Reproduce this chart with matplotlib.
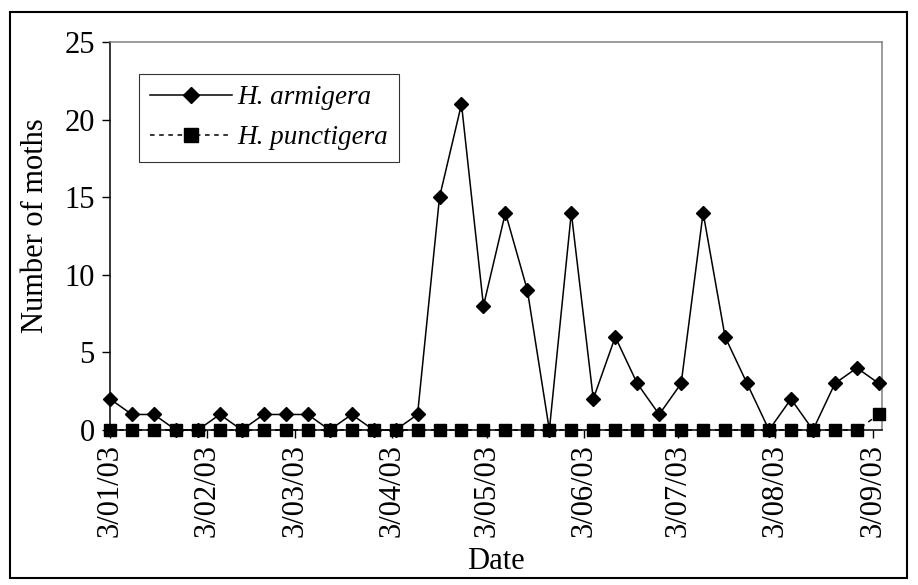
import datetime as dt
import matplotlib
matplotlib.use("Agg")
import matplotlib.pyplot as plt
import matplotlib.dates as mdates
from matplotlib.patches import Rectangle

plt.rcParams['font.family'] = ['Liberation Serif', 'DejaVu Serif']

# Weekly trap catches, starting 3 January 2003
start = dt.date(2003, 1, 3)
n_weeks = 36
dates = [start + dt.timedelta(days=7 * i) for i in range(n_weeks)]

armigera = [2, 1, 1, 0, 0, 1, 0, 1, 1, 1, 0, 1, 0, 0, 1,
            15, 21, 8, 14, 9, 0, 14, 2, 6, 3, 1, 3, 14, 6, 3,
            0, 2, 0, 3, 4, 3]
punctigera = [0] * 35 + [1]

tick_dates = [dt.date(2003, m, 3) for m in range(1, 10)]
y_ticks = [0, 5, 10, 15, 20, 25]

FS = 22
LEG_FS = 19.5

fig = plt.figure(figsize=(9.18, 5.85), dpi=100)
ax = fig.add_axes([110 / 918, 1 - 430 / 585, 772 / 918, 388 / 585])

ax.plot(dates, armigera, color='black', lw=1.1, marker='D', markersize=7,
        label='H. armigera', zorder=3, clip_on=False)
ax.plot(dates, punctigera, color='black', lw=1.1, ls=(0, (3, 3)), marker='s',
        markersize=9, label='H. punctigera', zorder=4, clip_on=False)

ax.set_xlim(dt.date(2003, 1, 3), dt.date(2003, 9, 6))
ax.set_ylim(0, 25)
ax.set_yticks(y_ticks)
ax.set_xticks(tick_dates)


def fmt_date(v, pos):
    d = mdates.num2date(v)
    return f"{d.day}/{d.month:02d}/{d.year % 100:02d}"


ax.xaxis.set_major_formatter(matplotlib.ticker.FuncFormatter(fmt_date))

for lbl in ax.get_xticklabels():
    lbl.set_rotation(90)

ax.tick_params(axis='both', direction='out', length=6, width=1, colors='black',
               labelsize=FS)
ax.tick_params(axis='y', pad=5)
ax.tick_params(axis='x', pad=4)

ax.spines['left'].set_color('black')
ax.spines['bottom'].set_color('black')
ax.spines['top'].set_color('#808080')
ax.spines['right'].set_color('#808080')
for s in ax.spines.values():
    s.set_linewidth(1.1)

ax.set_xlabel('Date', fontsize=FS)
ax.xaxis.label.set_va('center')
ax.xaxis.set_label_coords(0.5, -0.340)
ax.set_ylabel('Number of moths', fontsize=FS)
ax.yaxis.label.set_va('center')
ax.yaxis.set_label_coords(-0.097, 0.526)

leg = ax.legend(loc='upper left', bbox_to_anchor=(29 / 772, 1 - 32 / 388),
                prop={'style': 'italic', 'size': LEG_FS},
                frameon=True, fancybox=False, edgecolor='black',
                handlelength=3.0, borderpad=0.42, labelspacing=0.55,
                handletextpad=0.2, borderaxespad=0, markerscale=1.1)
leg.get_frame().set_linewidth(0.8)

fig.patches.append(Rectangle((10 / 918, 7 / 585), 897 / 918, 566 / 585,
                             transform=fig.transFigure, fill=False,
                             edgecolor='black', lw=1.5))

fig.savefig('out.png', dpi=100)
